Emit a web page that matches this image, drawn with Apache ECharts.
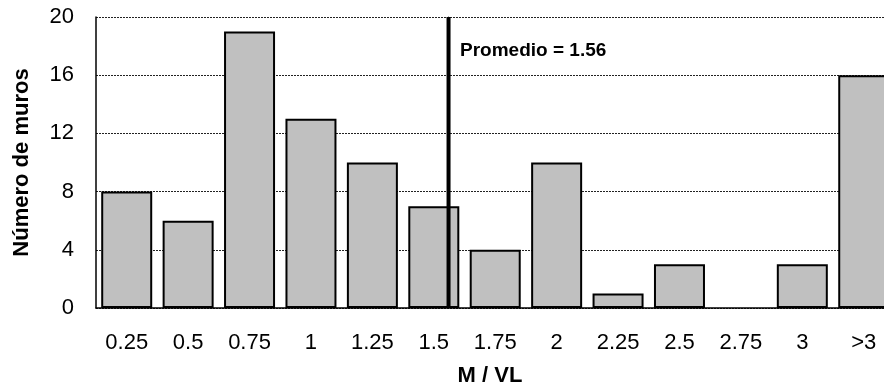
<!DOCTYPE html>
<html><head><meta charset="utf-8">
<script src="https://cdn.jsdelivr.net/npm/echarts@6/dist/echarts.min.js"></script>
<style>html,body{margin:0;padding:0;background:#fff}#c{width:884px;height:392px}</style>
</head><body><div id="c"></div>
<script>
const categories = ['0.25','0.5','0.75','1','1.25','1.5','1.75','2','2.25','2.5','2.75','3','>3'];
const counts = [8,6,19,13,10,7,4,10,1,3,0,3,16];
const yTicks = [0,4,8,12,16,20];
const meanValue = 1.56;
const meanLabel = 'Promedio = 1.56';
// Band i of the histogram covers [i, i+1] on a continuous axis; its centre is i + 0.5.
const bandCenter = i => i + 0.5;
const meanPos = bandCenter((meanValue - 0.25) / 0.25);

const chart = echarts.init(document.getElementById('c'));
const font = 'Liberation Sans';
function catLabel(v) {
  const k = v - 0.5, r = Math.round(k);
  return (Math.abs(k - r) < 1e-6 && categories[r] !== undefined) ? categories[r] : '';
}
chart.setOption({
  animation: false,
  grid: {left: 96, right: 0, top: 17, height: 295, containLabel: false},
  xAxis: {
    type: 'value', min: 0, max: 12.83, interval: 0.5,
    axisLine: {show: true, onZero: true, lineStyle: {color: '#000', width: 1.5}},
    axisTick: {show: false},
    splitLine: {show: false},
    axisLabel: {fontFamily: font, fontSize: 22, color: '#000', margin: 24,
      showMinLabel: true, showMaxLabel: false, formatter: catLabel},
    name: 'M / VL', nameLocation: 'middle', nameGap: 57,
    nameTextStyle: {fontFamily: font, fontSize: 22, fontWeight: 'bold', color: '#000'}
  },
  yAxis: {
    type: 'value', min: yTicks[0], max: yTicks[yTicks.length-1], interval: 4,
    axisLine: {show: true, lineStyle: {color: '#000', width: 1.5}},
    axisTick: {show: false},
    axisLabel: {fontFamily: font, fontSize: 22, color: '#000', margin: 22},
    splitLine: {show: true, lineStyle: {color: '#222', type: [2,1], width: 1}},
    name: 'Número de muros', nameLocation: 'middle', nameGap: 63, nameRotate: 90,
    nameTextStyle: {fontFamily: font, fontSize: 22, fontWeight: 'bold', color: '#000'}
  },
  series: [{
    type: 'bar', barWidth: 51,
    data: counts.map((v, i) => v === 0
      ? {value: [bandCenter(i), v], itemStyle: {borderWidth: 0}}
      : [bandCenter(i), v]),
    itemStyle: {color: '#c0c0c0', borderColor: '#000', borderWidth: 2}
  }, {
    type: 'line', symbol: 'circle', symbolSize: 1, showSymbol: true,
    itemStyle: {color: '#000'},
    lineStyle: {color: '#000', width: 4},
    data: [[meanPos, yTicks[0]], {value: [meanPos, yTicks[yTicks.length-1]],
      label: {show: true, formatter: meanLabel, position: 'right', distance: 5, offset: [6, 34],
        fontFamily: font, fontSize: 19, fontWeight: 'bold', color: '#000'}}],
    z: 5
  }]
});
</script></body></html>
